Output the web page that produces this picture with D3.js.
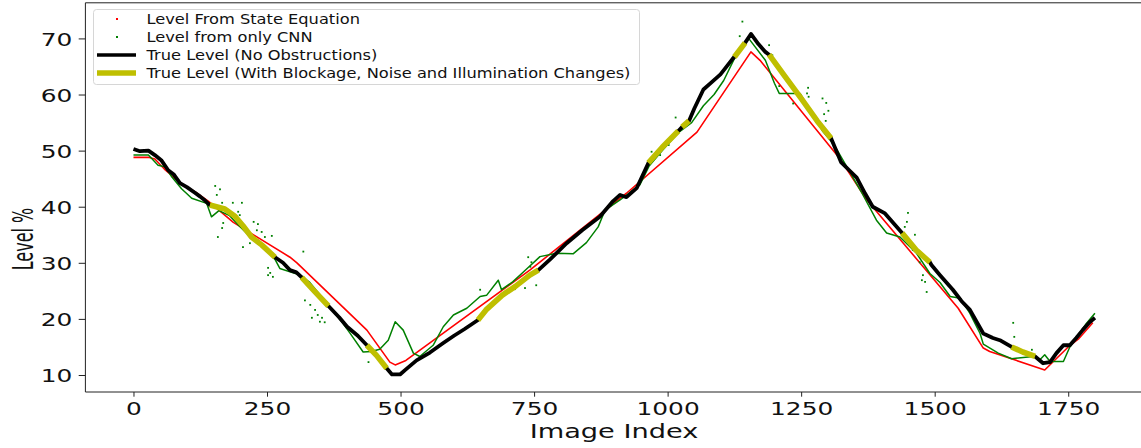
<!DOCTYPE html>
<html><head><meta charset="utf-8">
<script src="https://cdn.jsdelivr.net/npm/d3@7"></script>
<style>body{margin:0;background:#fff;} svg{display:block;font-family:"DejaVu Sans",sans-serif;}</style>
</head><body>
<svg id="c" width="1141" height="448"></svg>
<script>
// ---------- data ----------
const xTicks = [0, 250, 500, 750, 1000, 1250, 1500, 1750];
const yTicks = [10, 20, 30, 40, 50, 60, 70];
const legendLabels = [
  "Level From State Equation",
  "Level from only CNN",
  "True Level (No Obstructions)",
  "True Level (With Blockage, Noise and Illumination Changes)"
];
const xLabel = "Image Index";
const yLabel = "Level %";

// Level from state equation (red)
const stateIdx   = [0, 28, 40, 60, 87, 115, 140, 187, 293, 306, 437, 480, 490, 510, 742, 923, 1055, 1156, 1173, 1323, 1373, 1544, 1591, 1603, 1706, 1750, 1770, 1796];
const stateLevel = [48.8, 48.8, 48.5, 46.5, 44.3, 42.7, 41.0, 37.2, 31.0, 30.0, 18.0, 12.3, 11.8, 12.6, 28.7, 42.4, 53.3, 67.6, 66.1, 48.5, 41.2, 21.9, 14.8, 14.2, 10.9, 15.0, 16.5, 19.3];

// Level from only CNN (green), main trace
const cnnIdx   = [0, 28, 46, 59, 72, 90, 109, 137, 146, 160, 180, 200, 222, 245, 265, 274, 312, 330, 349, 368, 390, 405, 430, 445, 461, 477, 490, 505, 524, 536, 561, 580, 599, 624, 649, 661, 683, 689, 710, 735, 761, 792, 823, 848, 870, 883, 911, 948, 965, 990, 1020, 1045, 1067, 1087, 1105, 1125, 1151, 1183, 1200, 1209, 1248, 1265, 1290, 1312, 1338, 1364, 1391, 1410, 1435, 1466, 1491, 1510, 1529, 1548, 1566, 1585, 1591, 1619, 1644, 1684, 1697, 1706, 1716, 1741, 1753, 1784, 1800];
const cnnLevel = [49.2, 49.2, 47.4, 47.1, 45.3, 43.2, 41.5, 40.6, 38.2, 39.3, 38.4, 36.4, 34.3, 32.6, 30.6, 29.0, 27.8, 26.5, 24.3, 22.0, 19.5, 17.5, 14.1, 14.2, 14.6, 16.2, 19.5, 18.0, 13.9, 13.3, 15.3, 18.6, 20.7, 21.9, 24.0, 24.2, 26.9, 25.2, 26.6, 28.8, 31.1, 31.7, 31.6, 33.6, 36.4, 39.4, 41.2, 43.9, 47.2, 50.0, 53.2, 55.0, 58.0, 60.0, 62.5, 66.4, 70.1, 66.1, 62.0, 60.2, 60.2, 57.5, 53.5, 51.0, 46.7, 42.4, 37.6, 35.3, 34.6, 31.7, 28.1, 26.5, 24.0, 23.7, 21.0, 17.4, 15.5, 13.9, 12.9, 13.3, 12.7, 13.6, 12.4, 12.4, 15.0, 19.2, 21.0];

// Level from only CNN (green), scattered outliers
const cnnNoiseIdx   = [153, 162, 156, 166, 186, 203, 196, 199, 168, 166, 158, 205, 225, 233, 231, 240, 246, 259, 218, 252, 318, 252, 256, 261, 252, 321, 331, 340, 345, 353, 358, 334, 349, 440, 649, 739, 745, 754, 733, 714, 743, 970, 1015, 1002, 986, 1140, 1135, 1190, 1196, 1261, 1264, 1290, 1293, 1296, 1235, 1209, 1297, 1301, 1263, 1450, 1448, 1444, 1463, 1459, 1472, 1478, 1482, 1485, 1476, 1457, 1647, 1649, 1682];
const cnnNoiseLevel = [43.7, 43.1, 42.1, 40.7, 40.7, 40.7, 39.1, 38.5, 37.1, 36.2, 34.6, 32.8, 37.3, 36.9, 35.8, 35.5, 34.6, 34.8, 33.5, 32.3, 32.0, 29.1, 28.2, 27.5, 27.8, 23.3, 22.5, 21.6, 20.7, 20.2, 19.4, 20.2, 19.5, 12.3, 25.2, 31.0, 30.1, 26.0, 25.5, 25.3, 29.3, 49.8, 55.9, 51.0, 49.2, 73.0, 70.4, 68.8, 67.0, 60.2, 59.6, 59.3, 56.5, 55.3, 58.4, 61.5, 58.5, 57.1, 61.2, 38.9, 37.3, 36.4, 35.0, 32.3, 30.1, 27.8, 26.6, 24.8, 26.9, 33.5, 19.3, 16.8, 14.5];

// True level (black)
const trueIdx   = [0, 12, 28, 40, 52, 65, 75, 87, 100, 115, 125, 134, 143, 171, 190, 205, 221, 240, 265, 280, 293, 305, 315, 340, 365, 385, 400, 420, 437, 455, 474, 484, 499, 510, 530, 555, 580, 600, 620, 645, 660, 690, 715, 742, 758, 780, 811, 840, 873, 898, 911, 923, 942, 964, 990, 1020, 1027, 1040, 1050, 1067, 1080, 1099, 1122, 1125, 1145, 1156, 1170, 1183, 1190, 1220, 1250, 1280, 1306, 1325, 1340, 1354, 1370, 1384, 1407, 1439, 1465, 1491, 1494, 1510, 1534, 1550, 1566, 1591, 1609, 1622, 1644, 1665, 1688, 1703, 1716, 1728, 1741, 1753, 1765, 1777, 1790, 1800];
const trueLevel = [50.3, 49.9, 50.0, 49.2, 48.3, 46.5, 45.8, 44.2, 43.5, 42.5, 41.8, 41.1, 40.3, 39.6, 38.3, 36.6, 34.6, 33.2, 31.0, 30.0, 28.7, 28.3, 27.4, 24.8, 22.3, 20.3, 18.6, 17.0, 15.3, 13.5, 11.2, 10.1, 10.1, 11.0, 12.6, 14.0, 15.7, 17.0, 18.2, 19.8, 21.6, 24.2, 25.8, 27.8, 28.7, 30.6, 33.5, 35.8, 38.2, 41.0, 42.1, 41.7, 43.3, 47.8, 50.6, 53.5, 54.2, 55.3, 57.5, 60.9, 62.0, 63.6, 66.4, 66.7, 69.2, 70.8, 69.0, 67.6, 67.1, 63.2, 59.3, 55.3, 52.2, 47.9, 46.5, 45.2, 42.3, 40.0, 38.8, 35.3, 32.3, 30.1, 29.6, 27.8, 25.2, 23.2, 21.6, 17.4, 16.6, 16.2, 15.0, 14.1, 13.3, 12.1, 12.3, 13.9, 15.3, 15.3, 16.6, 18.0, 19.4, 20.2];

// Image-index ranges where the view had blockage / noise / illumination changes (yellow)
const blockStart = [143, 315, 437, 645, 964, 1027, 1125, 1190, 1439, 1644];
const blockEnd   = [265, 365, 474, 758, 1020, 1040, 1145, 1306, 1491, 1688];

// ---------- drawing ----------
const svg = d3.select("#c");
const x = d3.scaleLinear().domain([-90, 1890]).range([85.4, 1143]);
const y = d3.scaleLinear().domain([6.97, 76.35]).range([392, 2.8]);

const COL = {red: "#ff0000", green: "#008000", black: "#000000", yellow: "#bfbf00"};

svg.append("clipPath").attr("id", "pc").append("rect")
  .attr("x", 85.4).attr("y", 2.8).attr("width", 1143 - 85.4).attr("height", 392 - 2.8);
const plot = svg.append("g").attr("clip-path", "url(#pc)");

const line = d3.line().x(d => x(d[0])).y(d => y(d[1]));
const zip = (a, b) => a.map((v, i) => [v, b[i]]);

const stateData = zip(stateIdx, stateLevel);
const cnnData = zip(cnnIdx, cnnLevel);
const noiseData = zip(cnnNoiseIdx, cnnNoiseLevel);
const trueData = zip(trueIdx, trueLevel);

plot.append("path").datum(stateData).attr("d", line)
  .attr("fill", "none").attr("stroke", COL.red).attr("stroke-width", 1.6).attr("stroke-linejoin", "round");

plot.append("path").datum(cnnData).attr("d", line)
  .attr("fill", "none").attr("stroke", COL.green).attr("stroke-width", 1.5)
  .attr("stroke-linejoin", "round");
plot.selectAll("rect.noise").data(noiseData).enter().append("rect").attr("class", "noise")
  .attr("x", d => x(d[0]) - 0.9).attr("y", d => y(d[1]) - 0.9)
  .attr("width", 1.8).attr("height", 1.8).attr("fill", COL.green);

plot.append("path").datum(trueData).attr("d", line)
  .attr("fill", "none").attr("stroke", COL.black).attr("stroke-width", 3.8).attr("stroke-linejoin", "round").attr("stroke-linecap", "butt");

blockStart.forEach((s, i) => {
  const seg = trueData.filter(d => d[0] >= s && d[0] <= blockEnd[i]);
  plot.append("path").datum(seg).attr("d", line)
    .attr("fill", "none").attr("stroke", COL.yellow).attr("stroke-width", 5.6)
    .attr("stroke-linejoin", "round").attr("stroke-linecap", "butt");
});

// axes
const SX = 1.38;
const xAxis = svg.append("g").attr("transform", "translate(0,392)")
  .call(d3.axisBottom(x).tickValues(xTicks).tickSize(4.7).tickPadding(5.5).tickFormat(d3.format("d")));
const yAxis = svg.append("g").attr("transform", "translate(85.4,0)")
  .call(d3.axisLeft(y).tickValues(yTicks).tickSize(6.7).tickPadding(6.3).tickFormat(d3.format("d")));
[xAxis, yAxis].forEach(g => {
  g.select(".domain").remove();
  g.selectAll(".tick line").attr("stroke", "#222").attr("stroke-width", 1);
  g.selectAll(".tick text").attr("font-family", "DejaVu Sans").attr("font-size", 18).attr("fill", "#111");
});
xAxis.selectAll(".tick text").attr("transform", `scale(${SX},1)`);
yAxis.selectAll(".tick text").each(function () {
  const t = d3.select(this);
  t.attr("x", +t.attr("x") / SX).attr("dy", "0.38em").attr("transform", `scale(${SX},1)`);
});

// spines
svg.append("line").attr("x1", 85.4).attr("x2", 85.4).attr("y1", 2.8).attr("y2", 392).attr("stroke", "#222").attr("stroke-width", 1);
svg.append("line").attr("x1", 85.4).attr("x2", 1143).attr("y1", 392).attr("y2", 392).attr("stroke", "#222").attr("stroke-width", 1);
svg.append("line").attr("x1", 85.4).attr("x2", 1143).attr("y1", 2.8).attr("y2", 2.8).attr("stroke", "#222").attr("stroke-width", 1);

// axis labels
svg.append("text").attr("transform", `translate(614,438) scale(1.36,1)`)
  .attr("text-anchor", "middle").attr("font-size", 20).attr("fill", "#111").text(xLabel);
svg.append("text").attr("transform", `translate(33,239) scale(1.75,1) rotate(-90)`)
  .attr("text-anchor", "middle").attr("font-size", 16).attr("fill", "#111").text(yLabel);

// legend
const lg = svg.append("g");
lg.append("rect").attr("x", 93.5).attr("y", 9.5).attr("width", 546).attr("height", 75).attr("rx", 3)
  .attr("fill", "#fff").attr("fill-opacity", 0.8).attr("stroke", "#d6d6d6").attr("stroke-width", 1);
const rowsY = [19, 37, 55, 73];
const LSX = 1.16;
legendLabels.forEach((lab, i) => {
  const yy = rowsY[i];
  if (i === 0 || i === 1) {
    lg.append("rect").attr("x", 116).attr("y", yy - 1).attr("width", 2).attr("height", 2)
      .attr("fill", i === 0 ? COL.red : COL.green);
  } else {
    lg.append("line").attr("x1", 97).attr("x2", 136).attr("y1", yy).attr("y2", yy)
      .attr("stroke", i === 2 ? COL.black : COL.yellow).attr("stroke-width", i === 2 ? 3.6 : 5.6);
  }
  lg.append("text").attr("transform", `translate(146.5,${yy + 5}) scale(${LSX},1)`)
    .attr("font-size", 14).attr("fill", "#111").text(lab);
});
</script>
</body></html>
